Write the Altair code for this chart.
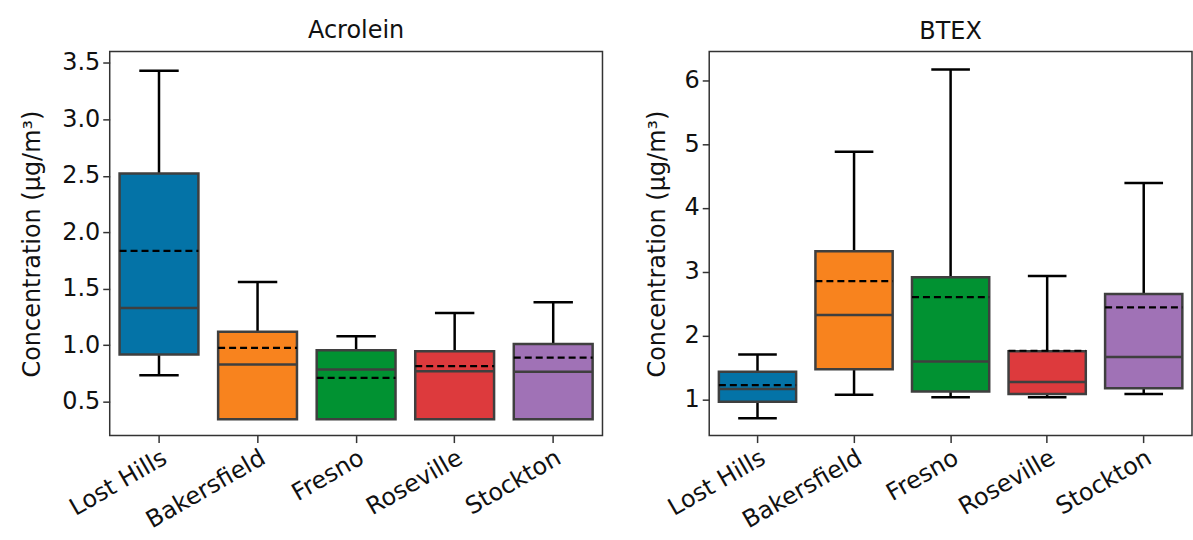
import altair as alt
import pandas as pd

sites = ["Lost Hills", "Bakersfield", "Fresno", "Roseville", "Stockton"]
colors = ["#0473a7", "#f8831e", "#019232", "#dd3a3d", "#a072b6"]

acro_lo = [0.735, 0.344, 0.344, 0.344, 0.344]
acro_q1 = [0.917, 0.344, 0.344, 0.344, 0.344]
acro_med = [1.33, 0.83, 0.785, 0.77, 0.765]
acro_mean = [1.835, 0.977, 0.71, 0.815, 0.89]
acro_q3 = [2.52, 1.12, 0.956, 0.947, 1.01]
acro_hi = [3.43, 1.56, 1.08, 1.285, 1.38]

btex_lo = [0.70, 1.07, 1.03, 1.03, 1.08]
btex_q1 = [0.96, 1.47, 1.12, 1.08, 1.17]
btex_med = [1.16, 2.32, 1.59, 1.27, 1.66]
btex_mean = [1.22, 2.85, 2.60, 1.76, 2.44]
btex_q3 = [1.43, 3.32, 2.91, 1.75, 2.65]
btex_hi = [1.70, 4.88, 6.17, 2.93, 4.39]

acro_ticks = [0.5, 1.0, 1.5, 2.0, 2.5, 3.0, 3.5]
btex_ticks = [1, 2, 3, 4, 5, 6]

FONT = "DejaVu Sans"
EDGE = "#3f3f3f"
FS = 24


def panel(title, lo, q1, med, mean, q3, hi, domain, ticks, fmt, width, height,
          tpad):
    df = pd.DataFrame({"site": sites, "lo": lo, "q1": q1, "med": med,
                       "mean": mean, "q3": q3, "hi": hi})
    step = width / len(sites)
    boxw = 0.8 * step
    capw = 0.4 * step
    x = alt.X("site:N", sort=sites,
              scale=alt.Scale(paddingInner=0, paddingOuter=0),
              axis=alt.Axis(title=None, labelAngle=-30, labelAlign="right",
                            labelBaseline="top", labelFontSize=FS,
                            labelFont=FONT, labelColor="#111",
                            tickSize=7, tickWidth=1.5, tickColor="#333",
                            domain=False, labelPadding=3))
    yaxis = alt.Axis(title="Concentration (μg/m³)", values=ticks, format=fmt,
                     grid=False, labelFontSize=FS, labelFont=FONT,
                     labelColor="#111", titleFontSize=FS, titleFont=FONT,
                     titleFontWeight="normal", titleColor="#111",
                     tickSize=7, tickWidth=1.5, tickColor="#333",
                     domain=False, labelPadding=3, titlePadding=tpad)
    yscale = alt.Scale(domain=domain, nice=False, zero=False)
    color = alt.Color("site:N", sort=sites,
                      scale=alt.Scale(domain=sites, range=colors), legend=None)
    base = alt.Chart(df)

    whisk = base.mark_rule(color="black", strokeWidth=2.5).encode(
        x=x, y=alt.Y("lo:Q", scale=yscale, axis=yaxis), y2="hi:Q")
    cap_lo = base.transform_filter("datum.lo < datum.q1").mark_tick(
        color="black", size=capw, thickness=2.5, opacity=1).encode(
        x=x, y=alt.Y("lo:Q", scale=yscale))
    cap_hi = base.mark_tick(color="black", size=capw, thickness=2.5,
                            opacity=1).encode(
        x=x, y=alt.Y("hi:Q", scale=yscale))
    box = base.mark_bar(width=alt.RelativeBandSize(0.8), stroke=EDGE,
                        strokeWidth=2.5, opacity=1).encode(
        x=x, y=alt.Y("q1:Q", scale=yscale), y2="q3:Q", color=color)
    median = base.mark_tick(color=EDGE, size=boxw, thickness=2.5,
                            opacity=1).encode(
        x=x, y=alt.Y("med:Q", scale=yscale))
    meanl = base.mark_rule(color="black", strokeWidth=2.2, strokeDash=[7, 4],
                           xOffset=-boxw / 2, x2Offset=boxw / 2).encode(
        x=x, x2=alt.X2("site:N"), y=alt.Y("mean:Q", scale=yscale))

    return alt.layer(whisk, cap_lo, cap_hi, box, median, meanl).properties(
        width=width, height=height,
        title=alt.Title(title, fontSize=FS, font=FONT, fontWeight="normal",
                        color="#111", offset=8))


left = panel("Acrolein", acro_lo, acro_q1, acro_med, acro_mean, acro_q3,
             acro_hi, [0.2, 3.6], acro_ticks, ".1f", 494, 385, 17)
right = panel("BTEX", btex_lo, btex_q1, btex_med, btex_mean, btex_q3,
              btex_hi, [0.43, 6.45], btex_ticks, "d", 484, 385, 15)

chart = alt.hconcat(left, right, spacing=40).properties(
    padding={"left": 20, "top": 17, "right": 0, "bottom": 0}
).configure(background="white").configure_view(
    stroke="#333", strokeWidth=1.5)

chart.save("out.html", embed_options={"renderer": "svg", "actions": False})
